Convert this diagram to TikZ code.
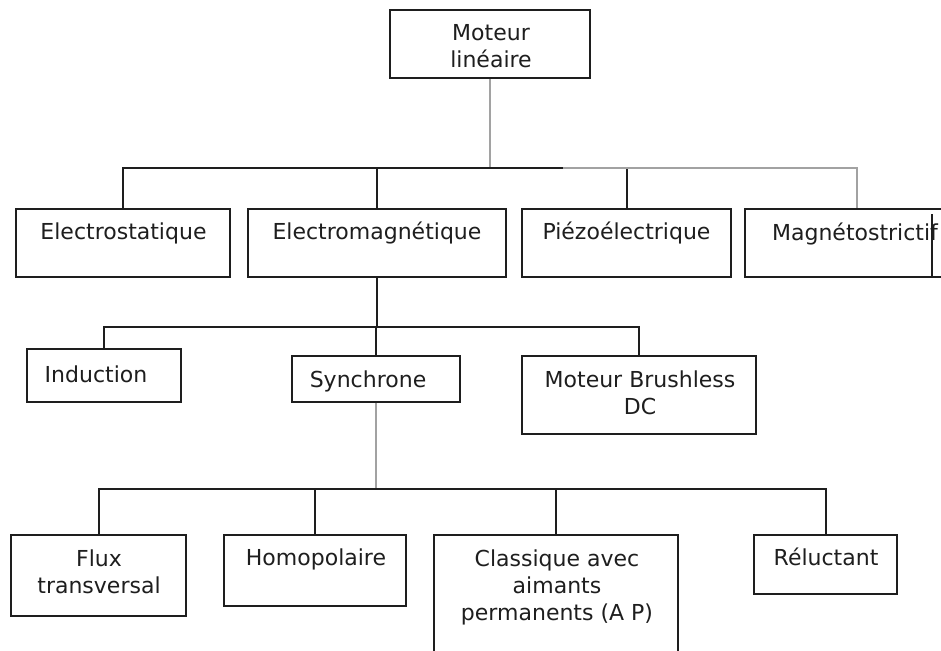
\documentclass[tikz,border=0pt]{standalone}
\usepackage{fontspec}
\setmainfont{DejaVu Sans}
\usetikzlibrary{fit}
\definecolor{ink}{HTML}{1E1E1E}
\definecolor{pale}{HTML}{A2A2A2}
\tikzset{
  box/.style={draw=ink, line width=1pt, inner sep=0pt, fill=white},
  lbl/.style={text=ink, font=\fontsize{11}{13.5}\selectfont, align=center, inner sep=0pt, anchor=base},
  dk/.style={draw=ink, line width=1pt},
  gr/.style={draw=pale, line width=1.3pt},
}
\begin{document}
\begin{tikzpicture}[x=0.5pt, y=-0.5pt]
\clip (0,0) rectangle (941,650);
\fill[white] (0,0) rectangle (941,650);

% boxes
\node[box, fit={(390,10) (590,78)}] (top) {};
\node[box, fit={(16,209) (230,277)}] (es) {};
\node[box, fit={(248,209) (506,277)}] (em) {};
\node[box, fit={(522,209) (731,277)}] (pz) {};
\node[box, fit={(745,209) (969,277)}] (mg) {};
\node[box, fit={(27,349) (181,402)}] (ind) {};
\node[box, fit={(292,356) (460,402)}] (syn) {};
\node[box, fit={(522,356) (756,434)}] (bl) {};
\node[box, fit={(11,535) (186,616)}] (fx) {};
\node[box, fit={(224,535) (406,606)}] (ho) {};
\node[box, fit={(434,535) (678,690)}] (cl) {};
\node[box, fit={(754,535) (897,594)}] (re) {};

% labels (base anchor sits on the last line of a multi-line label)
\node[lbl] (topT) at (491,67) {Moteur\\linéaire};
\node[lbl] (esT) at (123.5,239) {Electrostatique};
\node[lbl] (emT) at (377,239) {Electromagnétique};
\node[lbl] (pzT) at (626.5,239) {Piézoélectrique};
\node[lbl] (mgT) at (855,240) {Magnétostrictif};
\node[lbl] (indT) at (96,382) {Induction};
\node[lbl] (synT) at (368,387) {Synchrone};
\node[lbl] (blT) at (640,414) {Moteur Brushless\\DC};
\node[lbl] (fxT) at (99,593) {Flux\\transversal};
\node[lbl] (hoT) at (316,565) {Homopolaire};
\node[lbl] (clT) at (557,620) {Classique avec\\aimants\\permanents (A P)};
\node[lbl] (reT) at (826,565) {Réluctant};

% stray stroke inside the last box of the second row
\draw[ink, line width=0.8pt] (932,214) -- (932,277);

% first level
\coordinate (b1) at (490,168);
\coordinate (b1s) at (563,168);
\draw[gr] (top.south) -- (b1);
\draw[dk] (es.north) |- (b1s);
\draw[dk] (em.north) -- (em.north |- b1s);
\draw[dk] (pz.north) -- (pz.north |- b1s);
\draw[gr] (b1s) -| (mg.north);

% second level
\coordinate (b2) at (378,327);
\draw[dk] (em.south) -- (em.south |- b2);
\draw[dk] (ind.north) |- (b2) -| (bl.north);
\draw[dk] (syn.north) -- (syn.north |- b2);

% third level
\coordinate (b3) at (378,489);
\draw[gr] (syn.south) -- (syn.south |- b3);
\draw[dk] (fx.north) |- (b3) -| (re.north);
\draw[dk] (ho.north) -- (ho.north |- b3);
\draw[dk] (cl.north) -- (cl.north |- b3);
\end{tikzpicture}
\end{document}
